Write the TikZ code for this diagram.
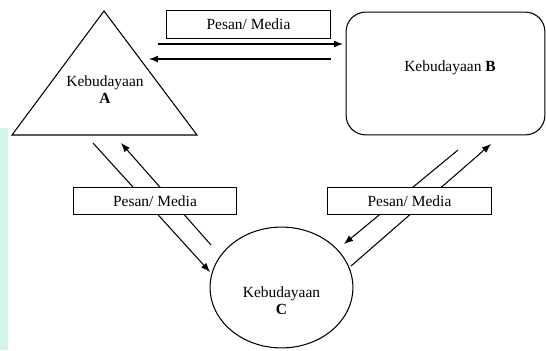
\documentclass[tikz,border=0pt]{standalone}
\usepackage{fontspec}
\setmainfont{Liberation Serif}
\usetikzlibrary{arrows.meta}
\usetikzlibrary{shapes.geometric}
\definecolor{mint}{RGB}{208,245,234}
\newcommand{\pesanbox}[3] % name, x, y (px)
{
	\node[draw, fill=white, minimum width=4.08cm, minimum height=0.68cm] (#1) at (#2,#3) {Pesan/ Media};
}
\newcommand{\budaya}[4] % name, x, y, letter
{
	\node[align=center] (#1) at (#2,#3) {Kebudayaan\\[-1pt] \textbf{#4}};
}

\begin{document}
\begin{tikzpicture}[x=0.025cm, y=-0.025cm, line width=0.75pt, >={Latex[length=6.5pt,width=5pt]}, every node/.style={font=\fontsize{11}{13}\selectfont, inner sep=0pt}]
	% 1px = 0.25mm, y downwards
	\useasboundingbox (0,0) rectangle (546,350);
	\fill[mint] (0,128) rectangle (8,350);
	
	% culture A
	\coordinate (apex) at (104,11);
	\coordinate (baseL) at (12,135);
	\coordinate (baseR) at (197,135);
	\draw (apex) -- (baseL) -- (baseR) -- cycle;
	\budaya{tA}{105}{90}{A}
	
	% culture B
	\node[draw, rounded corners=14pt, minimum width=4.97cm, minimum height=3.07cm] (B) at (445.5,73.5) {};
	\node (tB) at (450,68) {Kebudayaan \textbf{B}};
	
	% culture C
	\node[draw, ellipse, minimum width=3.57cm, minimum height=3.02cm] (C) at (281.5,287.5) {};
	\budaya{tC}{281.5}{301}{C}
	
	% end points
	\coordinate (ab1) at (158,44);
	\coordinate (ab2) at (343,44);
	\coordinate (ba1) at (331,59);
	\coordinate (ba2) at (149,59);
	\coordinate (ac1) at (93,143);
	\coordinate (ac2) at (210,272);
	\coordinate (ca1) at (211,245);
	\coordinate (ca2) at (121,143);
	\coordinate (cb1) at (351,266);
	\coordinate (cb2) at (491,144);
	\coordinate (bc1) at (458,150);
	\coordinate (bc2) at (344,244);
	
	\draw[->] (ab1) -- (ab2);
	\draw[->] (ba1) -- (ba2);
	\draw[->] (ac1) -- (ac2);
	\draw[->] (ca1) -- (ca2);
	\draw[->] (cb1) -- (cb2);
	\draw[->] (bc1) -- (bc2);
	
	% messages
	\pesanbox{mAB}{248.5}{24.5}
	\pesanbox{mAC}{155}{201}
	\pesanbox{mBC}{409.5}{201}
	
\end{tikzpicture}
\end{document}
